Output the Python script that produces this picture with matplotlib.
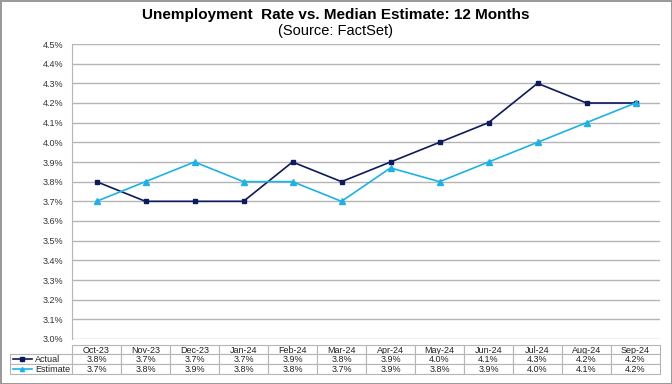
import matplotlib.pyplot as plt
from matplotlib.lines import Line2D
import numpy as np

plt.rcParams['font.family'] = ['Liberation Sans', 'DejaVu Sans']

months = ['Oct-23', 'Nov-23', 'Dec-23', 'Jan-24', 'Feb-24', 'Mar-24',
          'Apr-24', 'May-24', 'Jun-24', 'Jul-24', 'Aug-24', 'Sep-24']
actual = [3.8, 3.7, 3.7, 3.7, 3.9, 3.8, 3.9, 4.0, 4.1, 4.3, 4.2, 4.2]
estimate = [3.7, 3.8, 3.9, 3.8, 3.8, 3.7, 3.87, 3.8, 3.9, 4.0, 4.1, 4.2]

navy = '#0d1a5c'
light = '#1cb2e6'

fig = plt.figure(figsize=(6.72, 3.84), dpi=100)
fig.patch.set_edgecolor('#9a9a9a')
fig.patch.set_linewidth(2)
ax = fig.add_axes([72 / 672, 1 - 339 / 384, 588 / 672, 295 / 384])

x = np.arange(len(months))
ax.plot(x, actual, color=navy, lw=1.2, marker='s', ms=3.5)
ax.plot(x, estimate, color=light, lw=1.2, marker='^', ms=4)

ax.set_xlim(-0.5, 11.5)
ax.set_ylim(3.0, 4.5)
yt = np.round(np.arange(3.0, 4.51, 0.1), 1)
ax.set_yticks(yt)
ax.set_yticklabels([f'{v:.1f}%' for v in yt], fontsize=6.5, color='#333333')
ax.set_xticks([])
ax.tick_params(axis='y', length=0, pad=6)
ax.grid(axis='y', color='#b5b5b5', lw=1)
ax.set_axisbelow(True)
for s in ['top', 'right', 'bottom']:
    ax.spines[s].set_visible(False)
ax.spines['left'].set_color('#b5b5b5')

fig.text(0.5, 1 - 15 / 384, 'Unemployment  Rate vs. Median Estimate: 12 Months',
         ha='center', va='center', fontsize=11, fontweight='bold')
fig.text(0.5, 1 - 31 / 384, '(Source: FactSet)', ha='center', va='center', fontsize=10.5)

# data table below
cells = [[''] + months,
         ['Actual'] + [f'{v:.1f}%' for v in actual],
         ['Estimate'] + [f'{v:.1f}%' for v in estimate]]
lab_w = 62 / 588
col_w = [lab_w] + [1 / 12] * 12
tb = ax.table(cellText=cells, colWidths=col_w, cellLoc='center',
              bbox=[-lab_w, (339 - 374) / 295, 1 + lab_w, 29 / 295])
tb.auto_set_font_size(False)
tb.set_fontsize(6.5)
for (r, c), cell in tb.get_celld().items():
    cell.set_edgecolor('#b5b5b5')
    cell.set_linewidth(0.8)
    cell.set_height(9 if r == 0 else 10)
    cell.get_text().set_color('#222222')
    cell.get_text().set_va('center_baseline')
    if r == 0 and c == 0:
        cell.visible_edges = ''
    if c == 0 and r > 0:
        cell.get_text().set_ha('left')
        cell._loc = 'left'
        cell.PAD = 0.40

# legend keys in the row label cells
for yy, col, mk in [(359, navy, 's'), (369, light, '^')]:
    fig.add_artist(Line2D([13 / 672, 22 / 672, 32 / 672], [1 - yy / 384] * 3, color=col, lw=1.2,
                          marker=mk, ms=3, markevery=[1], transform=fig.transFigure))

fig.savefig('out.png', dpi=100)
